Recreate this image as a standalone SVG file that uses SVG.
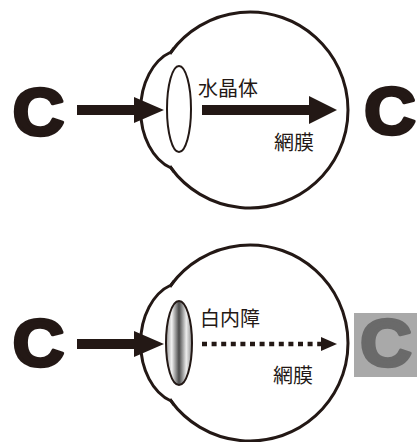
<svg xmlns="http://www.w3.org/2000/svg" width="417" height="442" viewBox="0 0 417 442">
  <style>
    .ink { fill: #231815; }
    .eye { fill: #ffffff; stroke: #231815; stroke-width: 3; stroke-linejoin: miter; stroke-miterlimit: 10; }
    .lens { stroke: #231815; stroke-width: 2; }
    .label { font-family: "Noto Sans CJK JP", "Noto Sans", sans-serif; font-size: 20px; fill: #231815; }
    .big-c { font-family: "Liberation Sans", Arial, sans-serif; font-weight: bold; font-size: 66px; text-anchor: middle; stroke-width: 3.5; stroke-linejoin: round; }
    .dots { stroke: #231815; stroke-width: 4.5; stroke-dasharray: 5 4.6; fill: none; }
  </style>
  <defs>
    <linearGradient id="cloudy" x1="0" y1="0" x2="1" y2="0">
      <stop offset="0" stop-color="#9a9a9a"/>
      <stop offset="0.22" stop-color="#f2f2f2"/>
      <stop offset="0.5" stop-color="#4a4a4a"/>
      <stop offset="0.78" stop-color="#ececec"/>
      <stop offset="1" stop-color="#8c8c8c"/>
    </linearGradient>
  </defs>
  <rect width="417" height="442" fill="#ffffff"/>

  <!-- Healthy eye: eyeball arc + cornea bulge, small cusps where they meet -->
  <g id="eye-normal">
    <path class="eye" d="M171,52 A98,98 0 1 1 171,168 A44,61 0 0 1 171,52 Z"/>
    <path class="eye" fill="none" d="M170,54 L174,48 M170,166 L174,172"/>
    <ellipse class="lens" cx="179" cy="109" rx="12" ry="43" fill="#ffffff"/>
  </g>
  <g id="label-normal">
    <text class="label" x="198" y="96">水晶体</text>
    <text class="label" x="274" y="150">網膜</text>
  </g>
  <g id="c-in-normal">
    <text class="big-c ink" x="38.5" y="135" stroke="#231815" transform="translate(38.5,0) scale(1.08,1) translate(-38.5,0)">C</text>
  </g>
  <g id="c-out-normal">
    <text class="big-c ink" x="390" y="134" stroke="#231815" transform="translate(390,0) scale(1.08,1) translate(-390,0)">C</text>
  </g>

  <!-- Eye with cataract -->
  <g id="eye-cataract">
    <path class="eye" d="M171,285 A98,98 0 1 1 171,401 A44,61 0 0 1 171,285 Z"/>
    <path class="eye" fill="none" d="M170,287 L174,281 M170,399 L174,405"/>
    <ellipse class="lens" cx="179" cy="343" rx="13" ry="42" fill="url(#cloudy)"/>
  </g>
  <g id="label-cataract">
    <text class="label" x="200" y="326">白内障</text>
    <text class="label" x="273" y="383">網膜</text>
  </g>
  <g id="c-in-cataract">
    <text class="big-c ink" x="38.5" y="366" stroke="#231815" transform="translate(38.5,0) scale(1.08,1) translate(-38.5,0)">C</text>
  </g>
  <g id="c-out-cataract">
    <rect x="354" y="313" width="63" height="64" fill="#a9a9a9"/>
    <text class="big-c" x="386" y="366" fill="#6a6a6a" stroke="#6a6a6a" font-size="60" transform="translate(386,0) scale(1.08,1) translate(-386,0)">C</text>
  </g>

  <!-- Light paths -->
  <g id="connectors">
    <rect class="ink" x="77" y="105" width="59" height="10"/>
    <polygon class="ink" points="134,97 164,110 134,123"/>
    <rect class="ink" x="202" y="105" width="109" height="10"/>
    <polygon class="ink" points="309,96 337,110 309,124"/>

    <rect class="ink" x="77" y="339" width="59" height="10"/>
    <polygon class="ink" points="134,331 164,344 134,357"/>
    <line class="dots" x1="202" y1="344" x2="322" y2="344"/>
    <polygon class="ink" points="321,337 337,344 321,351"/>
  </g>
</svg>
